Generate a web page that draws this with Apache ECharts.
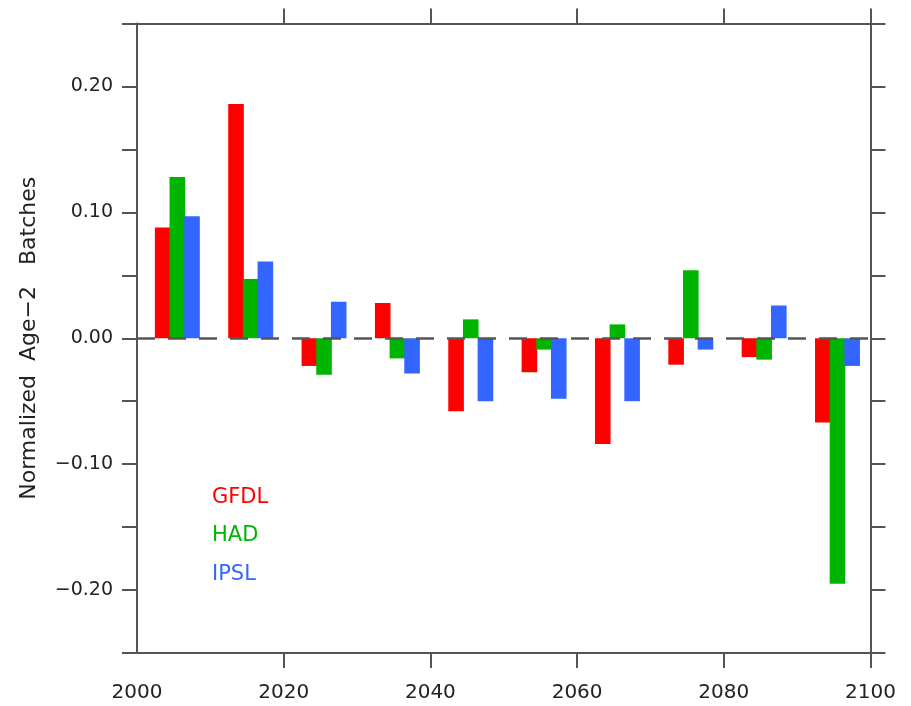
<!DOCTYPE html>
<html>
<head>
<meta charset="utf-8">
<script src="https://cdn.jsdelivr.net/npm/echarts@6/dist/echarts.min.js"></script>
<style>html,body{margin:0;padding:0;background:#fff}#c{width:911px;height:706px}</style>
</head>
<body>
<div id="c"></div>
<script>
// Decade centres (years) and normalized age-2 batches per model
const years = [2005.5, 2015.5, 2025.5, 2035.5, 2045.5, 2055.5, 2065.5, 2075.5, 2085.5, 2095.5];
const gfdl = [0.088, 0.186, -0.022, 0.028, -0.058, -0.027, -0.084, -0.021, -0.015, -0.067];
const had  = [0.128, 0.047, -0.029, -0.016, 0.015, -0.009, 0.011, 0.054, -0.017, -0.195];
const ipsl = [0.097, 0.061, 0.029, -0.028, -0.050, -0.048, -0.050, -0.009, 0.026, -0.022];
const seriesNames = ['GFDL', 'HAD', 'IPSL'];
const xTickValues = [2000, 2020, 2040, 2060, 2080, 2100];
const yTickValues = [-0.2, -0.1, 0, 0.1, 0.2];
const yTickLabels = ['\u22120.20', '\u22120.10', '0.00', '0.10', '0.20'];

const colors = ['#ff0000', '#00b400', '#3366ff'];
const FONT = 'DejaVu Sans';
const frame = '#555';
const offsets = [-2, 0, 2]; // bar placement within each decade group (years)
const axisForSeries = [2, 0, 3]; // each model on its own (shared-scale) x axis

const chart = echarts.init(document.getElementById('c'), null, {renderer: 'canvas'});

const axisCommon = {
  type: 'value',
  axisLine: {show: true, onZero: false, lineStyle: {color: frame, width: 2}},
  axisTick: {show: true, inside: false, length: 15, lineStyle: {color: frame, width: 2}},
  splitLine: {show: false}
};

const valuesBySeries = [gfdl, had, ipsl];
const series = seriesNames.map((name, s) => ({
  name: name,
  type: 'bar',
  xAxisIndex: axisForSeries[s],
  yAxisIndex: 0,
  barWidth: 15.6,
  barMaxWidth: 16,
  itemStyle: {color: colors[s], borderWidth: 0},
  emphasis: {disabled: true},
  data: years.map((y, i) => [y + offsets[s], valuesBySeries[s][i]]),
  z: 2
}));
series.push({
  name: 'zero',
  type: 'line',
  data: [],
  silent: true,
  z: 3,
  markLine: {
    silent: true,
    symbol: 'none',
    label: {show: false},
    lineStyle: {color: '#555', width: 2.5, type: [18, 13]},
    data: [{yAxis: 0}]
  }
});

const hiddenX = {type: 'value', min: 2000, max: 2100, show: false, position: 'bottom'};

chart.setOption({
  animation: false,
  backgroundColor: '#fff',
  textStyle: {fontFamily: FONT},
  grid: {left: 137, right: 40.5, top: 23.5, bottom: 53, containLabel: false},
  legend: {
    orient: 'vertical',
    left: 202,
    top: 482,
    icon: 'none',
    itemWidth: 0,
    itemHeight: 21,
    itemGap: 17.5,
    selectedMode: false,
    data: seriesNames.map((n, i) => ({name: n, textStyle: {color: colors[i], fontSize: 21, fontFamily: FONT}}))
  },
  xAxis: [
    Object.assign({}, axisCommon, {
      position: 'bottom', min: 2000, max: 2100,
      axisTick: Object.assign({}, axisCommon.axisTick, {customValues: xTickValues.slice(1)}),
      axisLabel: {show: true, customValues: xTickValues, margin: 30, fontSize: 20, color: '#222', fontFamily: FONT,
        formatter: v => String(Math.round(v))}
    }),
    Object.assign({}, axisCommon, {
      position: 'top', min: 2000, max: 2100,
      axisTick: Object.assign({}, axisCommon.axisTick, {customValues: xTickValues.slice(1)}),
      axisLabel: {show: false}
    }),
    Object.assign({}, hiddenX),
    Object.assign({}, hiddenX)
  ],
  yAxis: [
    Object.assign({}, axisCommon, {
      position: 'left', min: -0.25, max: 0.25, interval: 0.05,
      name: 'Normalized  Age\u22122   Batches',
      nameLocation: 'middle',
      nameRotate: 90,
      nameGap: 97,
      nameTextStyle: {fontSize: 22, color: '#222', fontFamily: FONT},
      axisLabel: {
        show: true, customValues: yTickValues, margin: 24, fontSize: 19, color: '#222', fontFamily: FONT,
        formatter: v => {
          const k = yTickValues.findIndex(t => Math.abs(t - v) < 1e-9);
          return k >= 0 ? yTickLabels[k] : '';
        }
      }
    }),
    Object.assign({}, axisCommon, {
      position: 'right', min: -0.25, max: 0.25, interval: 0.05,
      axisLabel: {show: false}
    })
  ],
  series: series
});
</script>
</body>
</html>
